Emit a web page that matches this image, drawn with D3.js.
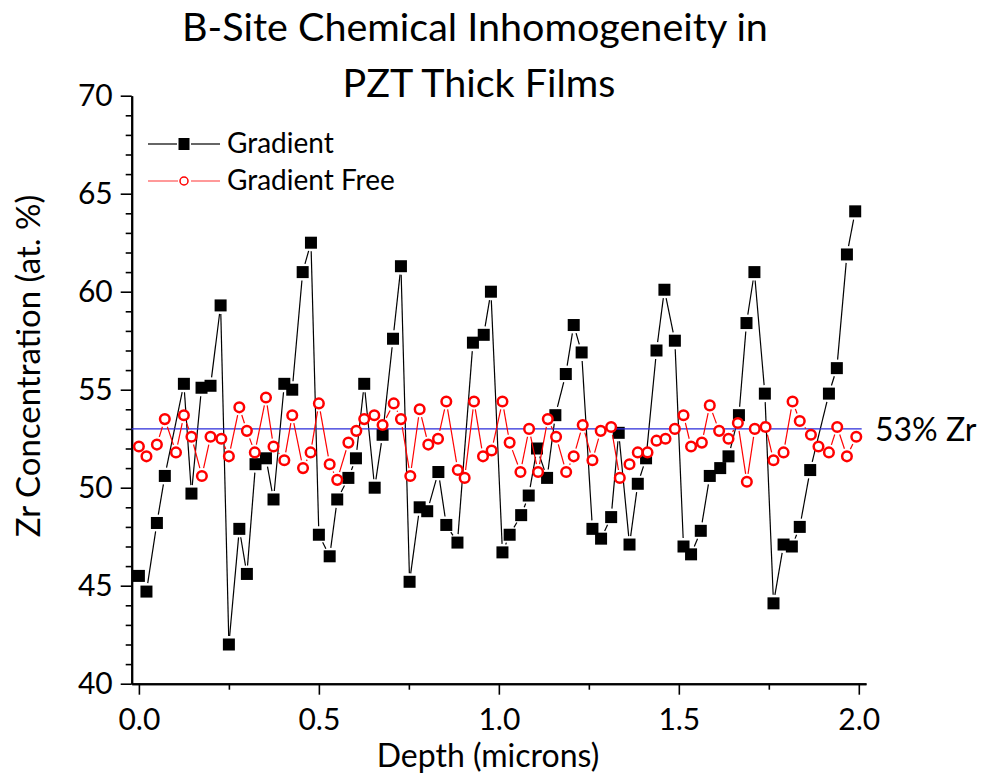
<!DOCTYPE html>
<html>
<head>
<meta charset="utf-8">
<script src="https://cdn.jsdelivr.net/npm/d3@7"></script>
<style>
  body { margin: 0; background: #fff; }
  svg text { font-family: Lato, "Open Sans", sans-serif; fill: #000; }
</style>
</head>
<body>
<svg id="chart" width="985" height="776"></svg>
<script>
// Gradient film (black squares)
const gradientDepth = [0.000,0.021,0.050,0.072,0.125,0.146,0.174,0.199,0.227,0.250,
  0.279,0.300,0.324,0.353,0.374,0.404,0.426,0.455,0.478,0.500,
  0.530,0.551,0.582,0.603,0.626,0.655,0.677,0.706,0.728,0.752,
  0.780,0.801,0.832,0.854,0.885,0.928,0.958,0.978,1.010,1.030,
  1.062,1.083,1.106,1.134,1.157,1.186,1.208,1.230,1.260,1.284,
  1.312,1.333,1.363,1.386,1.409,1.438,1.460,1.489,1.513,1.534,
  1.561,1.586,1.615,1.638,1.667,1.688,1.710,1.739,1.763,1.791,
  1.814,1.836,1.865,1.917,1.939,1.967,1.990];
const gradientZr = [45.5,44.7,48.2,50.6,55.3,49.7,55.1,55.2,59.3,42.0,
  47.9,45.6,51.2,51.5,49.4,55.3,55.0,61.0,62.5,47.6,
  46.5,49.4,50.5,51.5,55.3,50.0,52.7,57.6,61.3,45.2,
  49.0,48.8,50.8,48.1,47.2,57.4,57.8,60.0,46.7,47.6,
  48.6,49.6,52.0,50.5,53.7,55.8,58.3,56.9,47.9,47.4,
  48.5,52.8,47.1,50.2,51.5,57.0,60.1,57.5,47.0,46.6,
  47.8,50.6,51.0,51.6,53.7,58.4,61.0,54.8,44.1,47.1,
  47.0,48.0,50.9,54.8,56.1,61.9,64.1];

// Gradient-free film (red open circles)
const freeDepth = [0.000,0.021,0.050,0.072,0.103,0.125,0.146,0.175,0.199,0.229,
  0.250,0.279,0.300,0.322,0.353,0.374,0.404,0.426,0.456,0.477,
  0.500,0.530,0.551,0.582,0.604,0.626,0.654,0.677,0.708,0.728,
  0.754,0.780,0.804,0.831,0.854,0.886,0.905,0.931,0.956,0.980,
  1.010,1.030,1.060,1.084,1.109,1.136,1.159,1.187,1.208,1.233,
  1.260,1.283,1.312,1.336,1.363,1.386,1.413,1.438,1.463,1.489,
  1.513,1.534,1.564,1.586,1.612,1.638,1.664,1.689,1.711,1.741,
  1.763,1.791,1.816,1.836,1.867,1.888,1.917,1.940,1.967,1.993];
const freeZr = [52.1,51.6,52.2,53.5,51.8,53.7,52.6,50.6,52.6,52.5,
  51.6,54.1,52.9,51.8,54.6,52.1,51.4,53.7,51.0,51.8,
  54.3,51.2,50.4,52.3,52.9,53.5,53.7,53.2,54.3,53.5,
  50.6,54.0,52.2,52.5,54.4,50.9,50.5,54.4,51.6,51.9,
  54.4,52.3,50.8,53.0,50.8,53.5,52.6,50.8,51.6,53.2,
  51.4,52.9,53.1,50.5,51.2,51.8,51.8,52.4,52.5,53.0,
  53.7,52.1,52.3,54.2,52.9,52.5,53.3,50.3,53.0,53.1,
  51.4,51.8,54.4,53.4,52.7,52.1,51.8,53.1,51.6,52.6];

// Reference composition
const refZr = 53;
const refLabel = '53% Zr';

const xMajor = [0, 0.5, 1.0, 1.5, 2.0];
const xMinor = [0.25, 0.75, 1.25, 1.75];
const yMajor = [40, 45, 50, 55, 60, 65, 70];
const yMinor = d3.range(40, 71).filter(v => v % 5 !== 0);

const titleLines = ['B-Site Chemical Inhomogeneity in', 'PZT Thick Films'];
const xTitle = 'Depth (microns)';
const yTitle = 'Zr Concentration (at. %)';
const legendNames = ['Gradient', 'Gradient Free'];

const svg = d3.select('#chart');
const x = d3.scaleLinear().domain([-0.02, 2.02]).range([131.7, 866]);
const y = d3.scaleLinear().domain([40, 70]).range([683.7, 95.7]);

// Title
svg.append('text').attr('x', 475).attr('y', 41).attr('text-anchor', 'middle')
  .attr('font-size', 39.5).text(titleLines[0]);
svg.append('text').attr('x', 479).attr('y', 96.5).attr('text-anchor', 'middle')
  .attr('font-size', 39.5).text(titleLines[1]);

// Axes
function styleAxis(g) {
  g.select('.domain').attr('stroke', '#000').attr('stroke-width', 2);
  g.selectAll('.tick line').attr('stroke', '#000').attr('stroke-width', 1.6);
  g.selectAll('.tick text').attr('font-size', 30).attr('font-family', 'Lato, sans-serif');
}

const yBase = y(40);
svg.append('g').attr('transform', `translate(0,${yBase})`)
  .call(d3.axisBottom(x).tickValues(xMinor).tickSize(6).tickSizeOuter(0).tickFormat(''))
  .call(styleAxis);
svg.append('g').attr('transform', `translate(0,${yBase})`)
  .call(d3.axisBottom(x).tickValues(xMajor).tickSize(11).tickSizeOuter(0)
    .tickPadding(14).tickFormat(d3.format('.1f')))
  .call(styleAxis);

const xLeft = x.range()[0];
svg.append('g').attr('transform', `translate(${xLeft},0)`)
  .call(d3.axisLeft(y).tickValues(yMinor).tickSize(6).tickSizeOuter(0).tickFormat(''))
  .call(styleAxis);
svg.append('g').attr('transform', `translate(${xLeft},0)`)
  .call(d3.axisLeft(y).tickValues(yMajor).tickSize(11).tickSizeOuter(0).tickPadding(8))
  .call(styleAxis);

// Axis titles
svg.append('text').attr('x', 488).attr('y', 767).attr('text-anchor', 'middle')
  .attr('font-size', 32).text(xTitle);
svg.append('text').attr('transform', `translate(40,${366}) rotate(-90)`)
  .attr('text-anchor', 'middle').attr('font-size', 33).text(yTitle);

// Connecting lines with a small gap around each symbol (Origin style)
function gappedSegments(xs, ys, gap) {
  const pts = xs.map((d, i) => [x(d), y(ys[i])]);
  const segs = [];
  for (let i = 0; i < pts.length - 1; i++) {
    const [x0, y0] = pts[i], [x1, y1] = pts[i + 1];
    const len = Math.hypot(x1 - x0, y1 - y0);
    if (len <= 2 * gap + 1) continue;
    const ux = (x1 - x0) / len, uy = (y1 - y0) / len;
    segs.push([[x0 + ux * gap, y0 + uy * gap], [x1 - ux * gap, y1 - uy * gap]]);
  }
  return segs;
}
const line = d3.line();

// Gradient series
const gG = svg.append('g');
gG.selectAll('path').data(gappedSegments(gradientDepth, gradientZr, 8.5)).join('path')
  .attr('d', line).attr('fill', 'none').attr('stroke', '#000').attr('stroke-width', 1.2);
gG.selectAll('rect').data(gradientDepth).join('rect')
  .attr('x', d => x(d) - 6).attr('y', (d, i) => y(gradientZr[i]) - 6)
  .attr('width', 12).attr('height', 12).attr('fill', '#000');

// 53% reference line
svg.append('line')
  .attr('x1', x(-0.02)).attr('x2', x(2.008))
  .attr('y1', y(refZr)).attr('y2', y(refZr))
  .attr('stroke', '#2b2bd9').attr('stroke-width', 1.2);
svg.append('text').attr('x', 875).attr('y', y(refZr) + 12).attr('font-size', 32).text(refLabel);

// Gradient free series
const gF = svg.append('g');
gF.selectAll('path').data(gappedSegments(freeDepth, freeZr, 8)).join('path')
  .attr('d', line).attr('fill', 'none').attr('stroke', '#f00').attr('stroke-width', 1.2);
gF.selectAll('circle').data(freeDepth).join('circle')
  .attr('cx', d => x(d)).attr('cy', (d, i) => y(freeZr[i])).attr('r', 4.8)
  .attr('fill', '#fff').attr('stroke', '#f00').attr('stroke-width', 2.5);

// Legend
const lg = svg.append('g');
lg.append('line').attr('x1', 148).attr('x2', 177).attr('y1', 144).attr('y2', 144).attr('stroke', '#000').attr('stroke-width', 1.2);
lg.append('line').attr('x1', 191).attr('x2', 220).attr('y1', 144).attr('y2', 144).attr('stroke', '#000').attr('stroke-width', 1.2);
lg.append('rect').attr('x', 178.5).attr('y', 138).attr('width', 11).attr('height', 12).attr('fill', '#000');
lg.append('text').attr('x', 227).attr('y', 153).attr('font-size', 28).text(legendNames[0]);
lg.append('line').attr('x1', 148).attr('x2', 178).attr('y1', 181).attr('y2', 181).attr('stroke', '#f55').attr('stroke-width', 1.2);
lg.append('line').attr('x1', 191).attr('x2', 220).attr('y1', 181).attr('y2', 181).attr('stroke', '#f55').attr('stroke-width', 1.2);
lg.append('circle').attr('cx', 184).attr('cy', 181).attr('r', 4).attr('fill', '#fff').attr('stroke', '#f00').attr('stroke-width', 1.5);
lg.append('text').attr('x', 227).attr('y', 190).attr('font-size', 28).text(legendNames[1]);
</script>
</body>
</html>
